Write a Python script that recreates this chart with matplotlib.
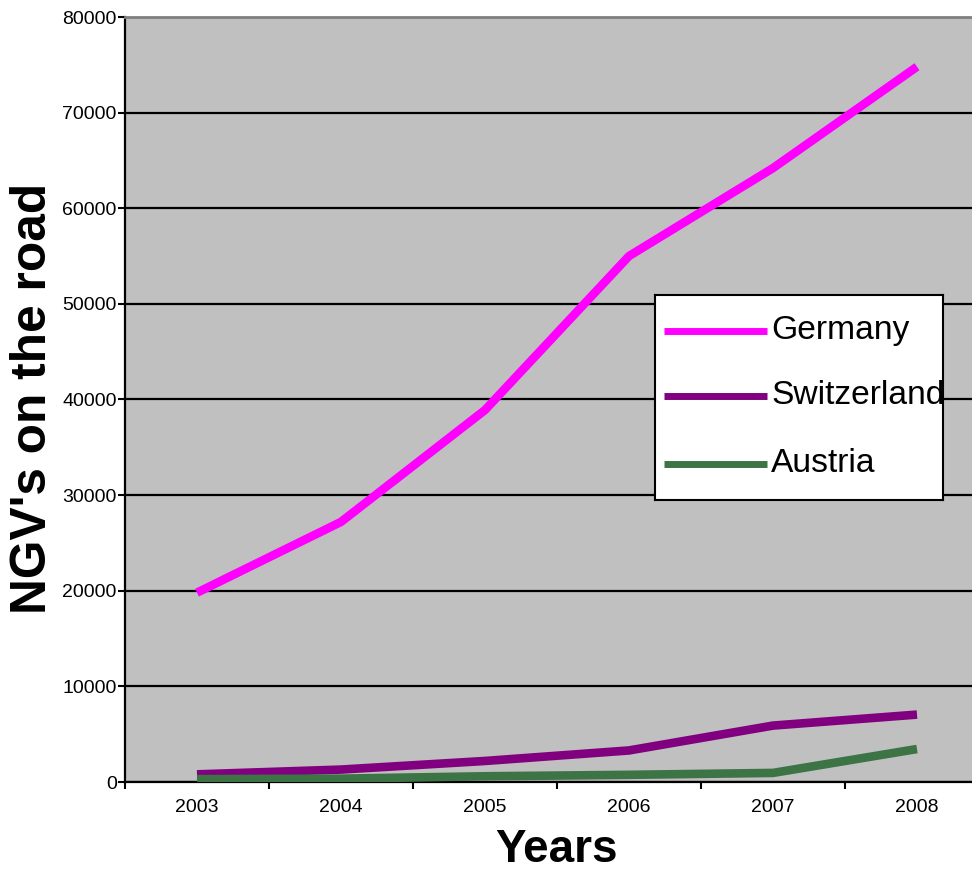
import matplotlib
matplotlib.use("Agg")
import matplotlib.pyplot as plt

plt.rcParams['font.family'] = ['Liberation Sans', 'DejaVu Sans']

years = ["2003", "2004", "2005", "2006", "2007", "2008"]
germany = [19800, 27200, 38900, 55000, 64200, 74800]
switzerland = [800, 1300, 2200, 3300, 5900, 7050]
austria = [300, 350, 600, 750, 950, 3450]

series_names = ["Germany", "Switzerland", "Austria"]
series_colors = ["#ff00ff", "#800080", "#3d7446"]
y_ticks = [0, 10000, 20000, 30000, 40000, 50000, 60000, 70000, 80000]

W, H = 972, 872
fig = plt.figure(figsize=(W / 100, H / 100), dpi=100)
fig.patch.set_facecolor("white")

# plot area; the category axis runs slightly past the right edge of the figure
ax = fig.add_axes([125 / W, 1 - 782 / H, 864 / W, 765 / H])
ax.set_facecolor("#c0c0c0")

x = list(range(len(years)))
for vals, name, col in zip([germany, switzerland, austria], series_names, series_colors):
    ax.plot(x, vals, color=col, lw=6.2, solid_capstyle="butt",
            solid_joinstyle="round", label=name, zorder=3)

ax.set_xlim(-0.5, len(years) - 0.5)
ax.set_ylim(0, 80000)

ax.set_yticks(y_ticks)
ax.set_yticklabels([str(v) for v in y_ticks])
ax.yaxis.grid(True, color="black", lw=1.6, zorder=1)
ax.set_axisbelow(True)

ax.set_xticks(x)
ax.set_xticklabels(years)
ax.set_xticks([i - 0.5 for i in range(len(years) + 1)], minor=True)
ax.tick_params(axis="x", which="major", length=0, pad=12, labelsize=14)
ax.tick_params(axis="x", which="minor", length=5, width=1.5, direction="out")
ax.tick_params(axis="y", which="major", length=5, width=1.5, pad=1, labelsize=14)

for s in ["left", "bottom"]:
    ax.spines[s].set_color("black")
    ax.spines[s].set_linewidth(1.6)
ax.spines["top"].set_color("#808080")
ax.spines["top"].set_linewidth(2)
ax.spines["right"].set_visible(False)

ax.set_ylabel("NGV's on the road", fontsize=35.7, fontweight="bold",
              ha="center", va="center")
ax.yaxis.set_label_coords((33 - 125) / 864, (782 - 398) / 765)
ax.set_xlabel("Years", fontsize=33, fontweight="bold", ha="center", va="center")
ax.xaxis.set_label_coords((556 - 125) / 864, (782 - 850) / 765)

# legend box, laid out in pixel units inside its own small axes
lw_px, lh_px = 288, 205
lax = fig.add_axes([655 / W, 1 - 500 / H, lw_px / W, lh_px / H])
lax.set_xlim(0, lw_px)
lax.set_ylim(lh_px, 0)
lax.set_facecolor("white")
lax.set_xticks([])
lax.set_yticks([])
for s in lax.spines.values():
    s.set_color("black")
    s.set_linewidth(1.5)
row_y = [36, 101, 169]
for yy, name, col in zip(row_y, series_names, series_colors):
    lax.plot([9, 112], [yy, yy], color=col, lw=5, solid_capstyle="butt")
    lax.text(116, yy, name, fontsize=24.2, ha="left", va="center",
             clip_on=False)

fig.savefig("out.png", dpi=100)
